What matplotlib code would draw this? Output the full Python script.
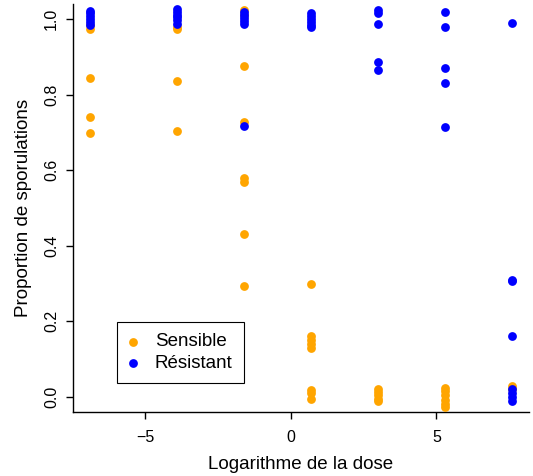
import numpy as np
import matplotlib
matplotlib.use("Agg")
import matplotlib.pyplot as plt

plt.rcParams['font.family'] = ['Liberation Sans', 'DejaVu Sans']

doses = [0.001, 0.02, 0.2, 2, 20, 200, 2000]

sensible = [
    [0.975, 0.985, 0.843, 0.740, 0.698],
    [0.975, 0.980, 0.836, 0.704],
    [1.025, 1.010, 0.876, 0.727, 0.580, 0.570, 0.430, 0.294],
    [0.300, 0.162, 0.150, 0.140, 0.130, 0.018, 0.010, -0.006],
    [0.022, 0.012, 0.004, -0.006, -0.012],
    [0.024, 0.016, 0.004, -0.008, -0.018, -0.026],
    [0.030, 0.022],
]

resistant = [
    [1.022, 1.015, 1.008, 1.000, 0.992, 0.985],
    [1.027, 1.020, 1.012, 1.005, 0.997, 0.988],
    [1.020, 1.012, 1.004, 0.996, 0.988, 0.718],
    [1.015, 1.008, 1.000, 0.992, 0.984, 0.978],
    [1.024, 1.016, 0.987, 0.886, 0.866],
    [1.018, 0.978, 0.870, 0.831, 0.714],
    [0.989, 0.310, 0.306, 0.160, 0.020, 0.010, 0.000, -0.012],
]

labels = ["Sensible", "Résistant"]
colors = ["orange", "blue"]

logd = np.log(doses)

W, H = 533, 476
fig = plt.figure(figsize=(W / 100, H / 100), dpi=100)
ax = fig.add_axes([73 / W, 64 / H, 456 / W, 408 / H])

for series, lab, col in zip([sensible, resistant], labels, colors):
    xs = np.concatenate([[logd[i]] * len(v) for i, v in enumerate(series)])
    ys = np.concatenate(series)
    ax.scatter(xs, ys, s=40, color=col, label=lab, linewidths=0, zorder=3)

ax.set_xlim(-7.49, 8.18)
ax.set_ylim(-0.04, 1.04)
ax.set_xticks([-5, 0, 5])
ax.set_yticks([0.0, 0.2, 0.4, 0.6, 0.8, 1.0])
ax.set_yticklabels(["0.0", "0.2", "0.4", "0.6", "0.8", "1.0"], rotation=90, va='center')
ax.spines['top'].set_visible(False)
ax.spines['right'].set_visible(False)
for s in ['left', 'bottom']:
    ax.spines[s].set_linewidth(1.0)
ax.tick_params(axis='both', length=5, width=1.0, labelsize=11.5, direction='out')
ax.tick_params(axis='x', pad=8)
ax.tick_params(axis='y', pad=5)
ax.set_xlabel("Logarithme de la dose", fontsize=13.5, labelpad=8)
ax.set_ylabel("Proportion de sporulations", fontsize=13.5, labelpad=9)

leg = ax.legend(loc='lower left', bbox_to_anchor=(117 / W, 93 / H),
                bbox_transform=fig.transFigure, frameon=True,
                fancybox=False, edgecolor='black', fontsize=13.5,
                handlelength=0.5, handletextpad=0.92, borderpad=0.6,
                borderaxespad=0, labelspacing=0.22,
                scatterpoints=1, markerscale=1.0, framealpha=1)
leg.get_frame().set_linewidth(0.8)

fig.savefig("out.png", dpi=100)
